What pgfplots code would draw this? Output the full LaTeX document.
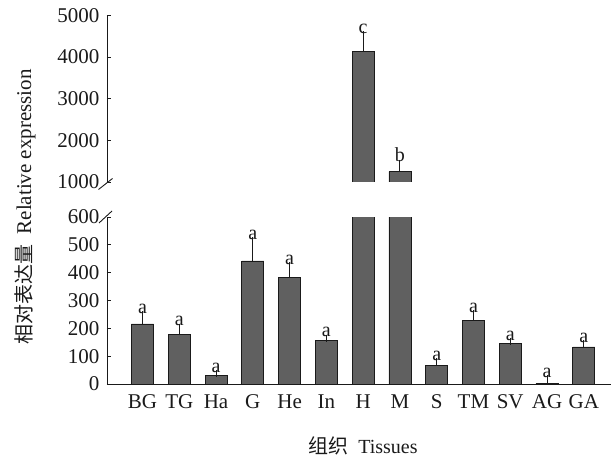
\documentclass[border=0pt]{standalone}
\usepackage{fontspec}
\setmainfont{Liberation Serif}
\newfontfamily\cjk{Noto Sans CJK SC}
\usepackage{pgfplots}
\usepackage{pgfplotstable}
\pgfplotsset{compat=1.18}
\definecolor{barfill}{HTML}{606060}
\definecolor{ink}{HTML}{1A1A1A}

% mean, SE (plus only)
\pgfplotstableread{
x val err
0 216 33
1 178 26
2 31 5
3 442 72
4 382 42
5 157 7
6 4125 409
7 1248 202
8 66 15
9 229 24
10 145 8
11 2 16
12 133 11
}\tissues

% H and M, the only bars above the break
\pgfplotstableread{
x val err
6 4125 409
7 1248 202
}\tissueshigh

\pgfplotstableread{
x top lab
0 249 a
1 204 a
2 36 a
3 514 a
4 424 a
5 164 a
8 81 a
9 253 a
10 153 a
11 18 a
12 144 a
}\lowletters

\pgfplotstableread{
x top lab
6 4534 c
7 1450 b
}\upletters

\pgfplotsset{
  brokenbase/.style={
    scale only axis, width=504bp,
    xmin=-0.965, xmax=12.74,
    font=\fontsize{21bp}{24bp}\selectfont,
    /pgf/number format/assume math mode=true,
    /pgf/number format/1000 sep={},
    axis line style={draw=ink, line width=0.9bp},
    tick align=inside, major tick length=4bp,
    ytick style={draw=ink, line width=0.9bp},
    yticklabel style={xshift=-4bp},
    axis y line*=left,
  },
  tisbar/.style={ybar, bar width=0.6, fill=barfill, draw=ink, line width=0.7bp,
    error bars/.cd, y dir=plus, y explicit,
    error bar style={draw=ink, line width=1bp},
    error mark options={draw=ink, mark size=3.5bp, line width=1bp}},
  letters/.style={draw=none, mark=none, nodes near coords, point meta=explicit symbolic,
    every node near coord/.append style={font=\fontsize{20bp}{22bp}\selectfont, text=ink, anchor=south, inner sep=1bp}},
}

\begin{document}
\begin{tikzpicture}
\path[use as bounding box] (-107bp,-73bp) rectangle (505bp,384bp);
% lower panel 0-600
\begin{axis}[brokenbase, at={(0,0)}, anchor=south west, height=167bp,
  ymin=0, ymax=600, ytick={0,100,...,600},
  axis x line*=bottom,
  xtick={0,...,12}, xtick style={draw=none},
  xticklabels={BG,TG,Ha,G,He,In,H,M,S,TM,SV,AG,GA},
  xticklabel style={text=ink, yshift=-7bp},
  yticklabel style={text=ink},
]
\addplot[tisbar] table[x=x, y=val, y error=err] {\tissues};
\addplot[letters] table[x=x, y=top, meta=lab] {\lowletters};
\end{axis}
% upper panel 1000-5000
\begin{axis}[brokenbase, at={(0,202bp)}, anchor=south west, height=166.6bp,
  ymin=1000, ymax=5000, ytick={1000,2000,...,5000},
  axis x line=none, xtick=\empty,
  yticklabel style={text=ink},
]
\addplot[tisbar] table[x=x, y=val, y error=err] {\tissueshigh};
\addplot[letters] table[x=x, y=top, meta=lab] {\upletters};
\end{axis}
% break marks on the y axis
\draw[ink, line width=0.9bp] (-8.5bp,194.5bp) -- (5.5bp,205.5bp);
\draw[ink, line width=0.9bp] (-8bp,161bp) -- (5bp,173bp);
% axis titles
\node[rotate=90, text=ink, font=\fontsize{21bp}{24bp}\selectfont] at (-82bp,177bp)
  {{\cjk\fontsize{20bp}{22bp}\selectfont 相对表达量}\ \ Relative expression};
\node[text=ink, font=\fontsize{20bp}{24bp}\selectfont] at (256bp,-62bp)
  {{\cjk\fontsize{20bp}{22bp}\selectfont 组织}\ \ Tissues};
\end{tikzpicture}
\end{document}
